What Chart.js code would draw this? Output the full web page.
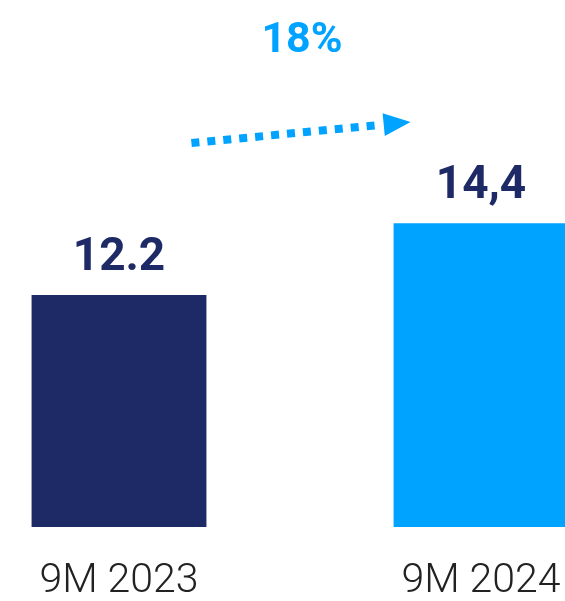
<!DOCTYPE html>
<html>
<head>
<meta charset="utf-8">
<script src="https://cdn.jsdelivr.net/npm/chart.js@4.4.1/dist/chart.umd.min.js"></script>
<style>
  html, body { margin: 0; padding: 0; background: #ffffff; overflow: hidden; }
  body { width: 565px; height: 601px; position: relative; }
  #wrap { position: absolute; left: -62px; top: 0; width: 724px; height: 636px; }
</style>
</head>
<body>
<div id="wrap"><canvas id="c" width="724" height="636"></canvas></div>
<script>
// Periods and values (billions)
const periods = ['9M 2023', '9M 2024'];
const values = [12.2, 14.4];
const decimalSeparators = ['.', ','];
const barColors = ['#1e2a66', '#00a3ff'];
const growthColor = '#00a3ff';
const labelColor = '#1e2a66';

const fmtValue = (v, i) => v.toFixed(1).replace('.', decimalSeparators[i]);
const growthPct = Math.round((values[1] / values[0] - 1) * 100);

// Value labels above bars, growth arrow and percentage between them
const annotations = {
  id: 'annotations',
  afterDatasetsDraw(chart) {
    const ctx = chart.ctx;
    const meta = chart.getDatasetMeta(0);
    const b0 = meta.data[0], b1 = meta.data[1];

    ctx.save();
    ctx.textAlign = 'center';
    ctx.textBaseline = 'alphabetic';
    ctx.fillStyle = labelColor;
    ctx.font = 'bold 46px Roboto';
    meta.data.forEach((bar, i) => {
      ctx.fillText(fmtValue(values[i], i), bar.x, bar.y - 25);
    });

    // growth percentage
    ctx.fillStyle = growthColor;
    ctx.font = 'bold 43px Roboto';
    ctx.fillText(growthPct + '%', (b0.x + b1.x) / 2 + 2, 52);

    // dotted arrow
    const x0 = b0.x + b0.width / 2 - 15, y0 = 143;
    const xt = b1.x - b1.width / 2 + 17, yt = 122;
    const ang = Math.atan2(yt - y0, xt - x0);
    const headLen = 27, headHalf = 11.5;
    const bx = xt - headLen * Math.cos(ang), by = yt - headLen * Math.sin(ang);

    ctx.strokeStyle = growthColor;
    ctx.lineWidth = 8;
    ctx.lineCap = 'butt';
    ctx.setLineDash([8, 8]);
    ctx.beginPath();
    ctx.moveTo(x0, y0);
    ctx.lineTo(bx - 2 * Math.cos(ang), by - 2 * Math.sin(ang));
    ctx.stroke();
    ctx.setLineDash([]);

    ctx.fillStyle = growthColor;
    ctx.beginPath();
    ctx.moveTo(xt, yt);
    ctx.lineTo(bx + headHalf * Math.sin(ang), by - headHalf * Math.cos(ang));
    ctx.lineTo(bx - headHalf * Math.sin(ang), by + headHalf * Math.cos(ang));
    ctx.closePath();
    ctx.fill();
    ctx.restore();
  }
};

new Chart(document.getElementById('c'), {
  type: 'bar',
  data: {
    labels: periods,
    datasets: [{
      data: values,
      backgroundColor: barColors,
      borderWidth: 0,
      categoryPercentage: 1,
      barPercentage: 0.483
    }]
  },
  options: {
    responsive: false,
    animation: false,
    layout: { padding: 0 },
    plugins: { legend: { display: false }, tooltip: { enabled: false } },
    scales: {
      x: {
        grid: { display: false, drawTicks: false },
        border: { display: false },
        ticks: {
          color: '#222222',
          padding: 34,
          font: { family: 'Roboto', size: 41, weight: '300', lineHeight: 1 }
        }
      },
      y: {
        display: false,
        min: 5.08,
        max: 21.25
      }
    }
  },
  plugins: [annotations]
});
</script>
</body>
</html>
